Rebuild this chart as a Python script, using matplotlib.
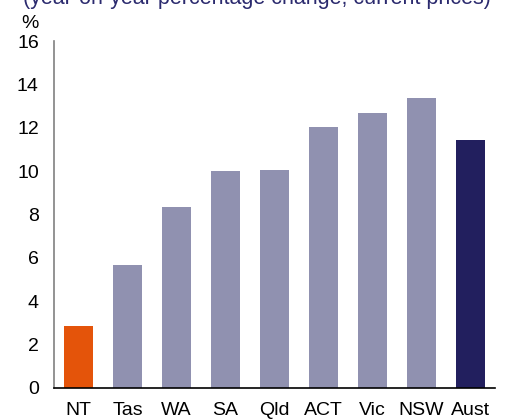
import matplotlib.pyplot as plt

plt.rcParams['font.family'] = ['Liberation Sans', 'DejaVu Sans']

# data
states = ['NT', 'Tas', 'WA', 'SA', 'Qld', 'ACT', 'Vic', 'NSW', 'Aust']
values = [2.85, 5.68, 8.35, 10.0, 10.05, 12.03, 12.68, 13.37, 11.45]
colors = ['#e4540a'] + ['#9091b0'] * 7 + ['#221f5e']

fig = plt.figure(figsize=(5.05, 4.2), dpi=100)
ax = fig.add_axes([0.107, 0.0762, 0.873, 0.826])

ax.bar(range(len(states)), values, width=0.6, color=colors)

ax.set_xlim(-0.5, len(states) - 0.5)
ax.set_ylim(0, 16)
ax.set_yticks(range(0, 17, 2))
ax.set_xticks(range(len(states)))
ax.set_xticklabels(states)
ax.tick_params(axis='both', length=0, labelsize=14)
ax.tick_params(axis='x', pad=10)
ax.tick_params(axis='y', pad=11)

ax.spines['top'].set_visible(False)
ax.spines['right'].set_visible(False)
ax.spines['left'].set_color('#808080')
ax.spines['left'].set_linewidth(1.2)
ax.spines['bottom'].set_color('black')
ax.spines['bottom'].set_linewidth(1.2)

# % unit label
fig.text(30 / 505, 1 - 24 / 420, '%', fontsize=14, ha='center', va='center')

# title (cut off at top in the original)
fig.text(0.508, 1 - 4 / 420, '(year-on-year percentage change, current prices)',
         fontsize=15.5, color='#2b2a6e', ha='center', va='baseline')

fig.savefig('out.png', dpi=100)
